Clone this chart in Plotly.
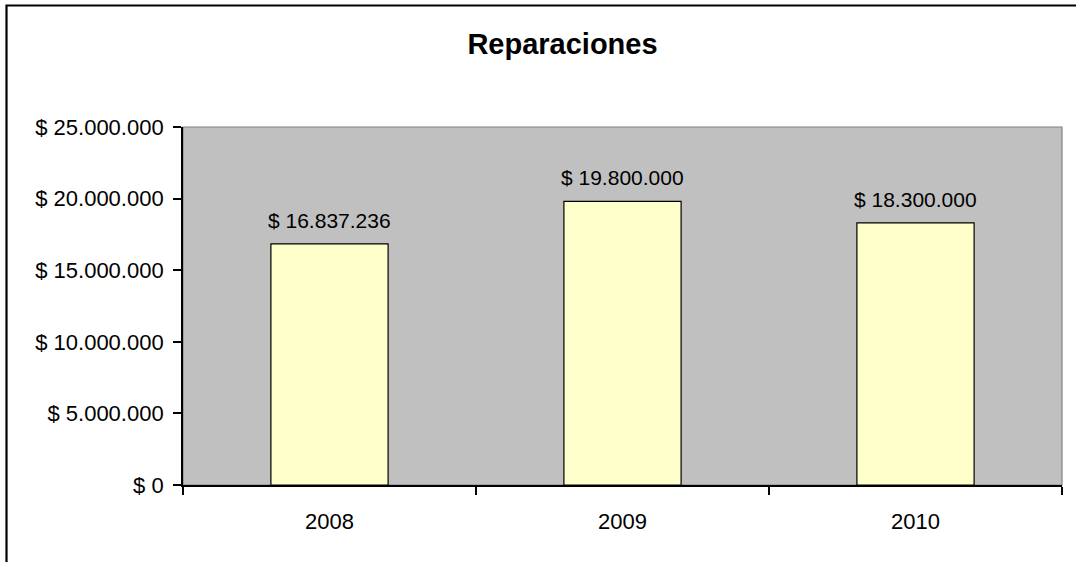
import plotly.graph_objects as go

years = ["2008", "2009", "2010"]
values = [16837236, 19800000, 18300000]
value_labels = ["$ 16.837.236", "$ 19.800.000", "$ 18.300.000"]
y_tick_values = [0, 5000000, 10000000, 15000000, 20000000, 25000000]
y_tick_labels = ["$ 0", "$ 5.000.000", "$ 10.000.000", "$ 15.000.000", "$ 20.000.000", "$ 25.000.000"]

W, H = 1076, 562
L, R, T, B = 183, 1062, 127, 485
pw, ph = R - L, B - T

def px_x(x):
    return (x - L) / pw

def px_y(y):
    return (B - y) / ph

FONT = "Liberation Sans, Arial, sans-serif"

fig = go.Figure()
fig.add_trace(go.Bar(
    x=years, y=values, width=0.4,
    marker=dict(color="#FFFFCC", line=dict(color="black", width=1.2)),
    hoverinfo="skip",
))

annotations = []
for i, (v, lab) in enumerate(zip(values, value_labels)):
    annotations.append(dict(x=i, y=v, xref="x", yref="y", text=lab, showarrow=False,
                            yanchor="bottom", yshift=10,
                            font=dict(family=FONT, size=21, color="black")))

shapes = [
    dict(type="rect", xref="paper", yref="paper", x0=0, y0=0, x1=1, y1=1,
         line=dict(color="#808080", width=1.2), layer="below"),
    dict(type="rect", xref="paper", yref="paper",
         x0=px_x(6.5), y0=px_y(575), x1=px_x(1090), y1=px_y(5.5),
         line=dict(color="black", width=2.2), fillcolor="rgba(0,0,0,0)"),
]

fig.update_layout(
    width=W, height=H,
    margin=dict(l=L, r=W - R, t=T, b=H - B, pad=0, autoexpand=False),
    paper_bgcolor="white",
    plot_bgcolor="#C0C0C0",
    showlegend=False,
    bargap=0.6,
    title=dict(text="<b>Reparaciones</b>", x=px_x(562.5), xref="paper", xanchor="center",
               y=1 - 44 / H, yref="container", yanchor="middle",
               font=dict(family=FONT, size=29, color="black")),
    font=dict(family=FONT, size=21, color="black"),
    annotations=annotations,
    shapes=shapes,
)

fig.update_xaxes(
    type="category", range=[-0.5, 2.5], tickson="boundaries", ticks="outside", ticklen=8,
    tickwidth=1.5, tickcolor="black", showline=True, linecolor="black", linewidth=1.8,
    showgrid=False, tickfont=dict(family=FONT, size=22, color="black"),
    ticklabelstandoff=16, tickangle=0, automargin=False,
)
fig.update_yaxes(
    range=[0, 25000000], tickvals=y_tick_values, ticktext=y_tick_labels,
    ticks="outside", ticklen=8, tickwidth=1.5, tickcolor="black",
    showline=True, linecolor="black", linewidth=1.8, showgrid=False, zeroline=False,
    tickfont=dict(family=FONT, size=22, color="black"),
    ticklabelstandoff=5, automargin=False,
)

fig.write_html("out.html", config={"displayModeBar": False},
               post_script="document.body.style.margin='0';document.body.style.overflow='hidden';")
